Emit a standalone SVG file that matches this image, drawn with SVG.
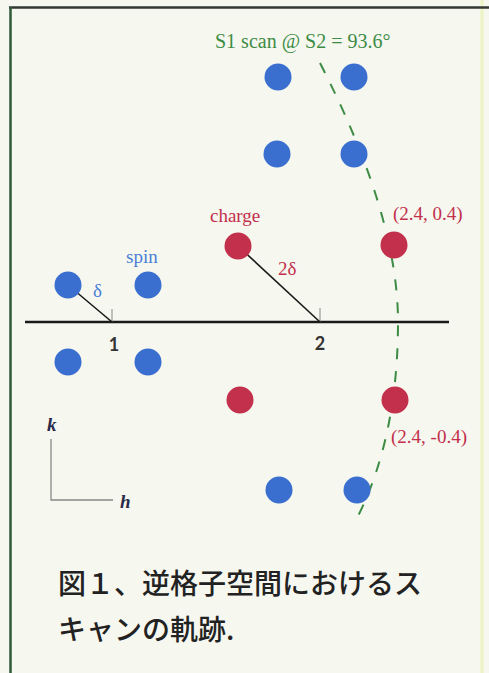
<svg xmlns="http://www.w3.org/2000/svg" width="489" height="673" viewBox="0 0 489 673">
<style>
.spin{fill:#3a6fd0}
.charge{fill:#c2304c}
.serif{font-family:"Liberation Serif","Times New Roman",serif}
.lbl-blue{fill:#4a7fd6;font-size:19px}
.lbl-red{fill:#c2304c;font-size:19px}
.num{font-family:"Lato","Liberation Sans",sans-serif;font-size:18px;fill:#333;font-weight:bold;text-anchor:middle}
.ax{font-family:"Liberation Serif",serif;font-style:italic;font-weight:bold;font-size:19px;fill:#2a2a4a}
.cap{font-family:"Noto Sans CJK JP","Noto Sans CJK SC",sans-serif;font-size:28px;font-weight:500;fill:#222}
</style>
<rect x="0" y="0" width="489" height="673" fill="#f6f7ef"/>
<line x1="482" y1="0" x2="482" y2="673" stroke="#eef3c4" stroke-width="3"/>
<line x1="9" y1="7.5" x2="489" y2="7.5" stroke="#333833" stroke-width="2.5"/>
<line x1="10.5" y1="7" x2="10.5" y2="673" stroke="#2f5a3a" stroke-width="2.5"/>

<text class="serif" x="215" y="48" font-size="20" fill="#3d8c45">S1 scan @ S2 = 93.6°</text>

<g id="connectors" fill="none">
<line id="h-axis" x1="25" y1="322" x2="449" y2="322" stroke="#1a1a1a" stroke-width="2.5"/>
<line x1="112" y1="309" x2="112" y2="322" stroke="#888" stroke-width="1"/>
<line x1="320" y1="308" x2="320" y2="322" stroke="#888" stroke-width="1"/>
<line x1="68" y1="285" x2="112" y2="322" stroke="#1a1a1a" stroke-width="1.6"/>
<line x1="238" y1="246" x2="320" y2="322" stroke="#1a1a1a" stroke-width="1.6"/>
<path id="scan" d="M320,63 Q398,215 398,322 Q398,440 355,522" stroke="#3d8c45" stroke-width="2" stroke-dasharray="11,12"/>
<path id="kh-axes" d="M51,439 V500 H113" stroke="#888" stroke-width="1.3"/>
</g>

<g id="spin-peaks" class="spin">
<circle id="s1" cx="278" cy="77" r="13.5"/>
<circle id="s2" cx="354" cy="77" r="13.5"/>
<circle id="s3" cx="277" cy="154" r="13.5"/>
<circle id="s4" cx="354" cy="154" r="13.5"/>
<circle id="s5" cx="68" cy="285" r="13.5"/>
<circle id="s6" cx="148" cy="285" r="13.5"/>
<circle id="s7" cx="68" cy="362" r="13.5"/>
<circle id="s8" cx="148" cy="362" r="13.5"/>
<circle id="s9" cx="279" cy="490" r="13.5"/>
<circle id="s10" cx="357" cy="490" r="13.5"/>
</g>
<g id="charge-peaks" class="charge">
<circle id="c1" cx="238" cy="246" r="13.5"/>
<circle id="c2" cx="394" cy="245" r="13.5"/>
<circle id="c3" cx="240" cy="400" r="13.5"/>
<circle id="c4" cx="395" cy="400" r="13.5"/>
</g>

<g id="labels">
<text class="serif lbl-blue" x="126" y="263">spin</text>
<text class="serif lbl-blue" x="93" y="297">δ</text>
<text class="serif lbl-red" x="210" y="222">charge</text>
<text class="serif lbl-red" x="278" y="275">2δ</text>
<text class="serif lbl-red" x="393" y="220">(2.4, 0.4)</text>
<text class="serif lbl-red" x="391" y="443">(2.4, -0.4)</text>
<text class="num" x="114" y="351">1</text>
<text class="num" x="320" y="350">2</text>
<text class="ax" x="47" y="431">k</text>
<text class="ax" x="120" y="508">h</text>
</g>

<g id="caption">
<text class="cap" x="58" y="594">図１、逆格子空間におけるス</text>
<text class="cap" x="58" y="640">キャンの軌跡.</text>
</g>
</svg>
